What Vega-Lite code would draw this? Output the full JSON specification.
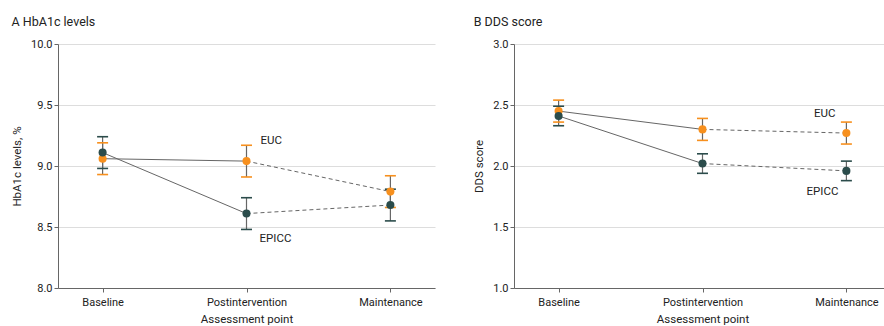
{
  "$schema": "https://vega.github.io/schema/vega-lite/v6.json",
  "background": "white",
  "padding": {"left": 11, "top": 15, "right": 0, "bottom": 4},
  "spacing": 38,
  "config": {
    "font": "Roboto, sans-serif",
    "view": {"stroke": null},
    "axis": {
      "domainColor": "#666",
      "tickColor": "#666",
      "labelColor": "#222",
      "titleColor": "#222",
      "labelFontSize": 11,
      "titleFontSize": 11.5,
      "titleFontWeight": "normal",
      "tickSize": 4,
      "gridColor": "#dddddd"
    },
    "title": {"fontSize": 12.5, "fontWeight": "normal", "color": "#222", "anchor": "start", "frame": "bounds"}
  },
  "datasets": {
    "hba1c": [
      {"group": "EUC", "phase": "Baseline", "mean": 9.06, "lo": 8.93, "hi": 9.19},
      {"group": "EUC", "phase": "Postintervention", "mean": 9.04, "lo": 8.91, "hi": 9.17},
      {"group": "EUC", "phase": "Maintenance", "mean": 8.79, "lo": 8.66, "hi": 8.92},
      {"group": "EPICC", "phase": "Baseline", "mean": 9.11, "lo": 8.98, "hi": 9.24},
      {"group": "EPICC", "phase": "Postintervention", "mean": 8.61, "lo": 8.48, "hi": 8.74},
      {"group": "EPICC", "phase": "Maintenance", "mean": 8.68, "lo": 8.55, "hi": 8.81}
    ],
    "dds": [
      {"group": "EUC", "phase": "Baseline", "mean": 2.45, "lo": 2.36, "hi": 2.54},
      {"group": "EUC", "phase": "Postintervention", "mean": 2.30, "lo": 2.21, "hi": 2.39},
      {"group": "EUC", "phase": "Maintenance", "mean": 2.27, "lo": 2.18, "hi": 2.36},
      {"group": "EPICC", "phase": "Baseline", "mean": 2.41, "lo": 2.33, "hi": 2.49},
      {"group": "EPICC", "phase": "Postintervention", "mean": 2.02, "lo": 1.94, "hi": 2.10},
      {"group": "EPICC", "phase": "Maintenance", "mean": 1.96, "lo": 1.88, "hi": 2.04}
    ]
  },
  "hconcat": [
    {
      "width": 377,
      "height": 244,
      "title": {"text": "A  HbA1c levels", "offset": 10},
      "data": {"name": "hba1c"},
      "encoding": {
        "x": {"field": "phase", "type": "ordinal", "sort": ["Baseline", "Postintervention", "Maintenance"],
          "scale": {"type": "point", "padding": 0.31},
          "axis": {"title": "Assessment point", "labelAngle": 0, "labelPadding": 4, "titlePadding": 6, "grid": false}}
      },
      "layer": [
        {"transform": [{"filter": "datum.phase != 'Maintenance'"}],
          "mark": {"type": "line", "color": "#666", "strokeWidth": 1},
          "encoding": {"y": {"field": "mean", "type": "quantitative",
            "scale": {"domain": [8, 10], "nice": false, "zero": false},
            "axis": {"title": "HbA1c levels, %", "values": [8, 8.5, 9, 9.5, 10], "format": ".1f", "grid": true, "titlePadding": 8, "labelPadding": 2}},
            "detail": {"field": "group"}}},
        {"transform": [{"filter": "datum.phase != 'Baseline'"}],
          "mark": {"type": "line", "color": "#666", "strokeWidth": 1, "strokeDash": [4, 3]},
          "encoding": {"y": {"field": "mean", "type": "quantitative"}, "detail": {"field": "group"}}},
        {"mark": {"type": "rule", "color": "#666", "strokeWidth": 1.2},
          "encoding": {"y": {"field": "lo", "type": "quantitative"}, "y2": {"field": "hi"}}},
        {"mark": {"type": "tick", "size": 11, "thickness": 1.6, "opacity": 1},
          "encoding": {"y": {"field": "lo", "type": "quantitative"},
            "color": {"field": "group", "type": "nominal", "scale": {"domain": ["EUC", "EPICC"], "range": ["#F7901E", "#2B4C4B"]}, "legend": null}}},
        {"mark": {"type": "tick", "size": 11, "thickness": 1.6, "opacity": 1},
          "encoding": {"y": {"field": "hi", "type": "quantitative"},
            "color": {"field": "group", "type": "nominal", "legend": null}}},
        {"mark": {"type": "point", "filled": true, "size": 65, "opacity": 1},
          "encoding": {"y": {"field": "mean", "type": "quantitative"},
            "color": {"field": "group", "type": "nominal", "legend": null}}},
        {"transform": [{"filter": "datum.group == 'EUC' && datum.phase == 'Postintervention'"}],
          "mark": {"type": "text", "align": "left", "baseline": "middle", "dx": 14, "dy": -20, "fontSize": 11.5, "color": "#222"},
          "encoding": {"y": {"field": "mean", "type": "quantitative"}, "text": {"field": "group"}}},
        {"transform": [{"filter": "datum.group == 'EPICC' && datum.phase == 'Postintervention'"}],
          "mark": {"type": "text", "align": "left", "baseline": "middle", "dx": 13, "dy": 25, "fontSize": 11.5, "color": "#222"},
          "encoding": {"y": {"field": "mean", "type": "quantitative"}, "text": {"field": "group"}}}
      ]
    },
    {
      "width": 377,
      "height": 244,
      "title": {"text": "B  DDS score", "offset": 10},
      "data": {"name": "dds"},
      "encoding": {
        "x": {"field": "phase", "type": "ordinal", "sort": ["Baseline", "Postintervention", "Maintenance"],
          "scale": {"type": "point", "padding": 0.31},
          "axis": {"title": "Assessment point", "labelAngle": 0, "labelPadding": 4, "titlePadding": 6, "grid": false}}
      },
      "layer": [
        {"transform": [{"filter": "datum.phase != 'Maintenance'"}],
          "mark": {"type": "line", "color": "#666", "strokeWidth": 1},
          "encoding": {"y": {"field": "mean", "type": "quantitative",
            "scale": {"domain": [1, 3], "nice": false, "zero": false},
            "axis": {"title": "DDS score", "values": [1, 1.5, 2, 2.5, 3], "format": ".1f", "grid": true, "titlePadding": 8, "labelPadding": 2}},
            "detail": {"field": "group"}}},
        {"transform": [{"filter": "datum.phase != 'Baseline'"}],
          "mark": {"type": "line", "color": "#666", "strokeWidth": 1, "strokeDash": [4, 3]},
          "encoding": {"y": {"field": "mean", "type": "quantitative"}, "detail": {"field": "group"}}},
        {"mark": {"type": "rule", "color": "#666", "strokeWidth": 1.2},
          "encoding": {"y": {"field": "lo", "type": "quantitative"}, "y2": {"field": "hi"}}},
        {"mark": {"type": "tick", "size": 11, "thickness": 1.6, "opacity": 1},
          "encoding": {"y": {"field": "lo", "type": "quantitative"},
            "color": {"field": "group", "type": "nominal", "scale": {"domain": ["EUC", "EPICC"], "range": ["#F7901E", "#2B4C4B"]}, "legend": null}}},
        {"mark": {"type": "tick", "size": 11, "thickness": 1.6, "opacity": 1},
          "encoding": {"y": {"field": "hi", "type": "quantitative"},
            "color": {"field": "group", "type": "nominal", "legend": null}}},
        {"mark": {"type": "point", "filled": true, "size": 65, "opacity": 1},
          "encoding": {"y": {"field": "mean", "type": "quantitative"},
            "color": {"field": "group", "type": "nominal", "legend": null}}},
        {"transform": [{"filter": "datum.group == 'EUC' && datum.phase == 'Maintenance'"}],
          "mark": {"type": "text", "align": "right", "baseline": "middle", "dx": -11, "dy": -19, "fontSize": 11.5, "color": "#222"},
          "encoding": {"y": {"field": "mean", "type": "quantitative"}, "text": {"field": "group"}}},
        {"transform": [{"filter": "datum.group == 'EPICC' && datum.phase == 'Maintenance'"}],
          "mark": {"type": "text", "align": "right", "baseline": "middle", "dx": -8, "dy": 21, "fontSize": 11.5, "color": "#222"},
          "encoding": {"y": {"field": "mean", "type": "quantitative"}, "text": {"field": "group"}}}
      ]
    }
  ]
}
